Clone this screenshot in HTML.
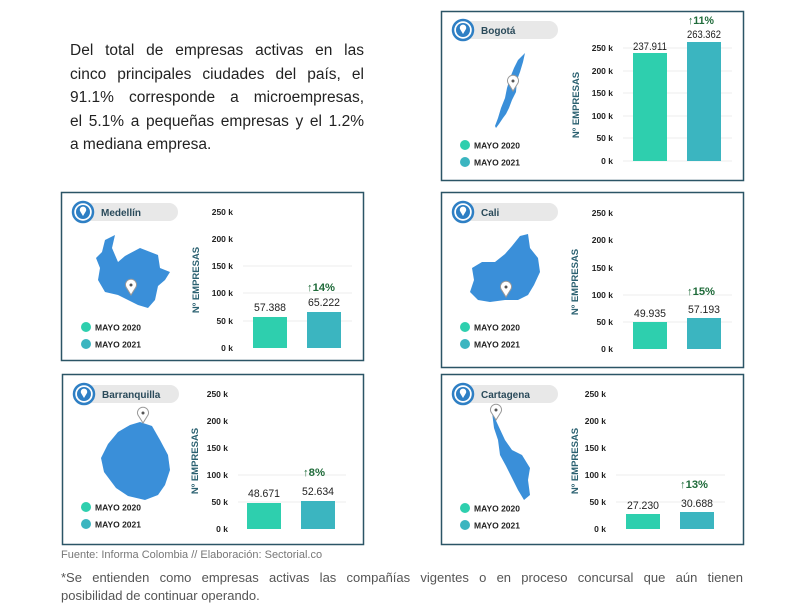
<!DOCTYPE html>
<html><head><meta charset="utf-8"><style>
body{margin:0;background:#fff;width:800px;height:600px;overflow:hidden;position:relative;font-family:"Liberation Sans",sans-serif}
.p{position:absolute;left:70px;top:39px;width:294px;font-size:15.5px;line-height:23.5px;color:#222}
.p span{display:block;text-align:justify;text-align-last:justify}
.p span.l{text-align-last:left}
.f{position:absolute;left:61px;top:549px;font-size:11px;color:#777}
.n{position:absolute;left:61px;top:569px;width:682px;font-size:13px;line-height:18px;color:#555}
.n span{display:block;text-align:justify;text-align-last:justify;white-space:nowrap}
.n span.l{text-align-last:left}
svg{position:absolute;left:0;top:0}
.t{font-family:"Liberation Sans",sans-serif;font-weight:bold}
</style></head><body>
<div class="p"><span>Del total de empresas activas en las</span><span>cinco principales ciudades del país, el</span><span>91.1% corresponde a microempresas,</span><span>el 5.1% a pequeñas empresas y el 1.2%</span><span class="l">a mediana empresa.</span></div>
<div class="f">Fuente: Informa Colombia // Elaboración: Sectorial.co</div>
<div class="n"><span style="word-spacing:3px">*Se entienden como empresas activas las compañías vigentes o en proceso concursal que aún tienen</span><span class="l">posibilidad de continuar operando.</span></div>
<svg width="800" height="600" xmlns="http://www.w3.org/2000/svg">
<defs>
<g id="pin"><circle r="10" fill="#fff" stroke="#2e7fc4" stroke-width="2.5"/><circle r="7" fill="#2e7fc4"/><path d="M0,4 L-3,-1 A3.2,3.2 0 1 1 3,-1 Z" fill="#fff"/></g>
<g id="mk"><path d="M0,8 L-5,0 A5.5,5.5 0 1 1 5,0 Z" fill="#fff" stroke="#999" stroke-width="1"/><circle cy="-2" r="1.5" fill="#555"/></g>
</defs>
<g font-size="8.5" class="t" fill="#222">
<!-- Bogota -->
<rect x="441.5" y="11.5" width="302" height="169" fill="none" stroke="#2b5566" stroke-width="1.5"/>
<rect x="463" y="21" width="95" height="18" rx="9" fill="#e8e8e8"/><use href="#pin" x="463" y="30"/>
<text x="481" y="34" font-size="10" fill="#2a4a5a">Bogotá</text>
<path d="M525,53 L523,62 L520,72 L517,80 L516,92 L512,100 L509,108 L506,114 L503,118 L499,124 L496,128 L495,126 L498,118 L501,108 L505,98 L507,88 L510,78 L514,68 L518,60 Z" fill="#3a8fd9"/>
<use href="#mk" x="513" y="83"/>
<circle cx="465" cy="145" r="5" fill="#2ecfae"/><text x="474" y="148.5" font-size="8.5">MAYO 2020</text>
<circle cx="465" cy="162" r="5" fill="#3bb5c0"/><text x="474" y="165.5" font-size="8.5">MAYO 2021</text>
<text transform="translate(579,105) rotate(-90)" text-anchor="middle" font-size="9.5" fill="#2a6070">Nº EMPRESAS</text>
<g stroke="#eee"><line x1="623" x2="732" y1="48" y2="48"/><line x1="623" x2="732" y1="71" y2="71"/><line x1="623" x2="732" y1="93" y2="93"/><line x1="623" x2="732" y1="116" y2="116"/><line x1="623" x2="732" y1="138" y2="138"/><line x1="623" x2="732" y1="161" y2="161"/></g>
<g text-anchor="end"><text x="613" y="51">250 k</text><text x="613" y="74">200 k</text><text x="613" y="96">150 k</text><text x="613" y="119">100 k</text><text x="613" y="141">50 k</text><text x="613" y="164">0 k</text></g>
<rect x="633" y="53" width="34" height="108" fill="#2ecfae"/><rect x="687" y="42" width="34" height="119" fill="#3bb5c0"/>
<g text-anchor="middle" font-weight="normal" font-size="11"><text x="650" y="50" textLength="34" lengthAdjust="spacingAndGlyphs">237.911</text><text x="704" y="38" textLength="34" lengthAdjust="spacingAndGlyphs">263.362</text><text x="701" y="24" fill="#1f6b3a" font-weight="bold" textLength="26" lengthAdjust="spacingAndGlyphs">↑11%</text></g>

<!-- Medellin -->
<rect x="61.5" y="192.5" width="302" height="168" fill="none" stroke="#2b5566" stroke-width="1.5"/>
<rect x="83" y="203" width="95" height="18" rx="9" fill="#e8e8e8"/><use href="#pin" x="83" y="212"/>
<text x="101" y="216" font-size="10" fill="#2a4a5a">Medellín</text>
<path d="M105,240 L115,235 L112,248 L118,262 L125,256 L140,248 L158,255 L160,268 L170,272 L165,280 L158,286 L155,300 L148,308 L138,305 L128,300 L118,295 L105,292 L98,280 L100,268 L96,258 L102,252 Z" fill="#3a8fd9"/>
<use href="#mk" x="131" y="287"/>
<circle cx="86" cy="327" r="5" fill="#2ecfae"/><text x="95" y="330.5">MAYO 2020</text>
<circle cx="86" cy="344" r="5" fill="#3bb5c0"/><text x="95" y="347.5">MAYO 2021</text>
<text transform="translate(199,280) rotate(-90)" text-anchor="middle" font-size="9.5" fill="#2a6070">Nº EMPRESAS</text>
<g stroke="#eee"><line x1="243" x2="352" y1="266" y2="266"/><line x1="243" x2="352" y1="293" y2="293"/><line x1="243" x2="352" y1="321" y2="321"/></g>
<g text-anchor="end"><text x="233" y="215">250 k</text><text x="233" y="242">200 k</text><text x="233" y="269">150 k</text><text x="233" y="296">100 k</text><text x="233" y="324">50 k</text><text x="233" y="351">0 k</text></g>
<rect x="253" y="317" width="34" height="31" fill="#2ecfae"/><rect x="307" y="312" width="34" height="36" fill="#3bb5c0"/>
<g text-anchor="middle" font-weight="normal" font-size="11"><text x="270" y="311" textLength="32" lengthAdjust="spacingAndGlyphs">57.388</text><text x="324" y="306" textLength="32" lengthAdjust="spacingAndGlyphs">65.222</text><text x="321" y="291" fill="#1f6b3a" font-weight="bold" textLength="28" lengthAdjust="spacingAndGlyphs">↑14%</text></g>

<!-- Cali -->
<rect x="441.5" y="192.5" width="302" height="175" fill="none" stroke="#2b5566" stroke-width="1.5"/>
<rect x="463" y="203" width="95" height="18" rx="9" fill="#e8e8e8"/><use href="#pin" x="463" y="212"/>
<text x="481" y="216" font-size="10" fill="#2a4a5a">Cali</text>
<path d="M520,236 L528,234 L530,248 L538,258 L540,272 L534,285 L528,295 L518,300 L505,300 L490,302 L478,300 L470,292 L474,280 L472,268 L482,262 L495,262 L505,254 L512,246 Z" fill="#3a8fd9"/>
<use href="#mk" x="506" y="289"/>
<circle cx="465" cy="327" r="5" fill="#2ecfae"/><text x="474" y="330.5">MAYO 2020</text>
<circle cx="465" cy="344" r="5" fill="#3bb5c0"/><text x="474" y="347.5">MAYO 2021</text>
<text transform="translate(578,282) rotate(-90)" text-anchor="middle" font-size="9.5" fill="#2a6070">Nº EMPRESAS</text>
<g stroke="#eee"><line x1="623" x2="732" y1="295" y2="295"/><line x1="623" x2="732" y1="322" y2="322"/></g>
<g text-anchor="end"><text x="613" y="216">250 k</text><text x="613" y="243">200 k</text><text x="613" y="271">150 k</text><text x="613" y="298">100 k</text><text x="613" y="325">50 k</text><text x="613" y="352">0 k</text></g>
<rect x="633" y="322" width="34" height="27" fill="#2ecfae"/><rect x="687" y="318" width="34" height="31" fill="#3bb5c0"/>
<g text-anchor="middle" font-weight="normal" font-size="11"><text x="650" y="317" textLength="32" lengthAdjust="spacingAndGlyphs">49.935</text><text x="704" y="313" textLength="32" lengthAdjust="spacingAndGlyphs">57.193</text><text x="701" y="295" fill="#1f6b3a" font-weight="bold" textLength="28" lengthAdjust="spacingAndGlyphs">↑15%</text></g>

<!-- Barranquilla -->
<rect x="62.5" y="374.5" width="301" height="170" fill="none" stroke="#2b5566" stroke-width="1.5"/>
<rect x="84" y="385" width="95" height="18" rx="9" fill="#e8e8e8"/><use href="#pin" x="84" y="394"/>
<text x="102" y="398" font-size="10" fill="#2a4a5a">Barranquilla</text>
<path d="M140,422 L152,426 L160,440 L168,455 L170,470 L165,485 L158,495 L145,500 L128,496 L116,488 L104,472 L101,458 L108,444 L118,432 L130,425 Z" fill="#3a8fd9"/>
<use href="#mk" x="143" y="415"/>
<circle cx="86" cy="507" r="5" fill="#2ecfae"/><text x="95" y="510.5">MAYO 2020</text>
<circle cx="86" cy="524" r="5" fill="#3bb5c0"/><text x="95" y="527.5">MAYO 2021</text>
<text transform="translate(198,461) rotate(-90)" text-anchor="middle" font-size="9.5" fill="#2a6070">Nº EMPRESAS</text>
<g stroke="#eee"><line x1="238" x2="346" y1="475" y2="475"/><line x1="238" x2="346" y1="502" y2="502"/></g>
<g text-anchor="end"><text x="228" y="397">250 k</text><text x="228" y="424">200 k</text><text x="228" y="451">150 k</text><text x="228" y="478">100 k</text><text x="228" y="505">50 k</text><text x="228" y="532">0 k</text></g>
<rect x="247" y="503" width="34" height="26" fill="#2ecfae"/><rect x="301" y="501" width="34" height="28" fill="#3bb5c0"/>
<g text-anchor="middle" font-weight="normal" font-size="11"><text x="264" y="497" textLength="32" lengthAdjust="spacingAndGlyphs">48.671</text><text x="318" y="495" textLength="32" lengthAdjust="spacingAndGlyphs">52.634</text><text x="314" y="476" fill="#1f6b3a" font-weight="bold" textLength="22" lengthAdjust="spacingAndGlyphs">↑8%</text></g>

<!-- Cartagena -->
<rect x="441.5" y="374.5" width="302" height="170" fill="none" stroke="#2b5566" stroke-width="1.5"/>
<rect x="463" y="385" width="95" height="18" rx="9" fill="#e8e8e8"/><use href="#pin" x="463" y="394"/>
<text x="481" y="398" font-size="10" fill="#2a4a5a">Cartagena</text>
<path d="M492,412 L498,425 L505,440 L512,450 L522,455 L530,468 L528,480 L530,495 L524,500 L518,490 L512,478 L506,466 L500,455 L498,440 L494,428 Z" fill="#3a8fd9"/>
<use href="#mk" x="496" y="412"/>
<circle cx="465" cy="508" r="5" fill="#2ecfae"/><text x="474" y="511.5">MAYO 2020</text>
<circle cx="465" cy="525" r="5" fill="#3bb5c0"/><text x="474" y="528.5">MAYO 2021</text>
<text transform="translate(578,461) rotate(-90)" text-anchor="middle" font-size="9.5" fill="#2a6070">Nº EMPRESAS</text>
<g stroke="#eee"><line x1="616" x2="725" y1="475" y2="475"/><line x1="616" x2="725" y1="502" y2="502"/></g>
<g text-anchor="end"><text x="606" y="397">250 k</text><text x="606" y="424">200 k</text><text x="606" y="451">150 k</text><text x="606" y="478">100 k</text><text x="606" y="505">50 k</text><text x="606" y="532">0 k</text></g>
<rect x="626" y="514" width="34" height="15" fill="#2ecfae"/><rect x="680" y="512" width="34" height="17" fill="#3bb5c0"/>
<g text-anchor="middle" font-weight="normal" font-size="11"><text x="643" y="509" textLength="32" lengthAdjust="spacingAndGlyphs">27.230</text><text x="697" y="507" textLength="32" lengthAdjust="spacingAndGlyphs">30.688</text><text x="694" y="488" fill="#1f6b3a" font-weight="bold" textLength="28" lengthAdjust="spacingAndGlyphs">↑13%</text></g>
</g>
</svg>
</body></html>
